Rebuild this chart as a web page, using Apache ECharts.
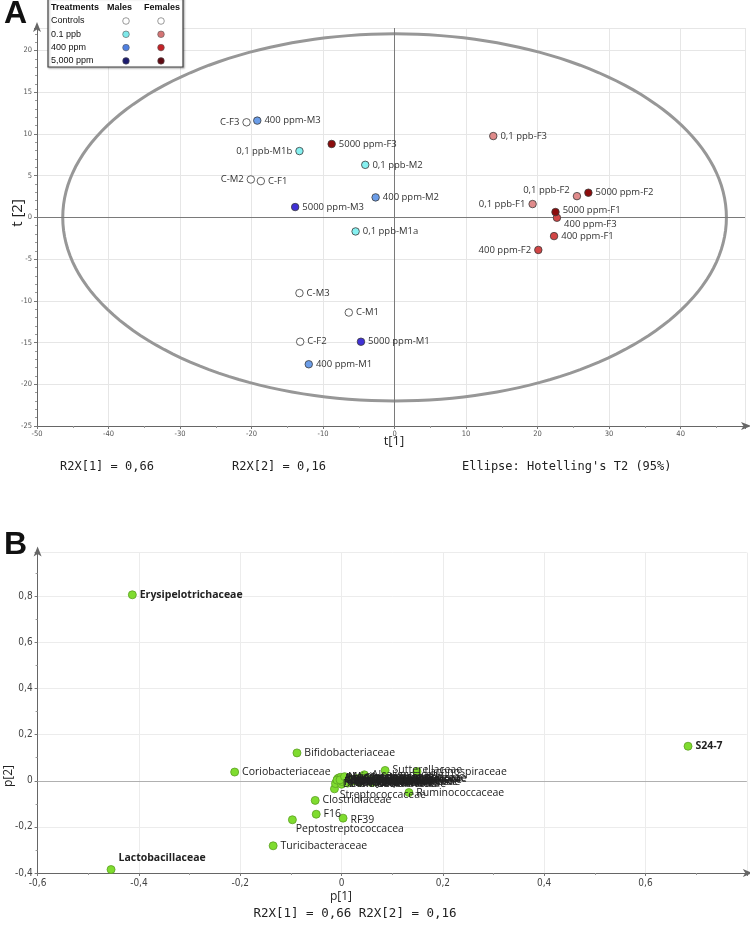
<!DOCTYPE html>
<html><head><meta charset="utf-8">
<script src="https://cdn.jsdelivr.net/npm/echarts@6/dist/echarts.min.js"></script>
<style>html,body{margin:0;padding:0;background:#fff}#c{width:750px;height:926px}</style>
</head><body><div id="c"></div>
<script>
// ---------- Panel A data (scores t[1], t[2]) ----------
const ctrlNames = ['C-F3','C-M2','C-F1','C-M3','C-M1','C-F2'];
const ctrlX = [-20.7,-20.1,-18.7,-13.3,-6.4,-13.2];
const ctrlY = [11.4,4.55,4.35,-9.07,-11.4,-14.9];
const ppbMNames = ['0,1 ppb-M1b','0,1 ppb-M2','0,1 ppb-M1a'];
const ppbMX = [-13.3,-4.1,-5.45];
const ppbMY = [7.95,6.3,-1.68];
const p400MNames = ['400 ppm-M3','400 ppm-M2','400 ppm-M1'];
const p400MX = [-19.2,-2.65,-12.0];
const p400MY = [11.6,2.4,-17.6];
const p5000MNames = ['5000 ppm-M3','5000 ppm-M1'];
const p5000MX = [-13.9,-4.7];
const p5000MY = [1.24,-14.9];
const ppbFNames = ['0,1 ppb-F3','0,1 ppb-F2','0,1 ppb-F1'];
const ppbFX = [13.8,25.5,19.3];
const ppbFY = [9.75,2.55,1.6];
const p400FNames = ['400 ppm-F3','400 ppm-F1','400 ppm-F2'];
const p400FX = [22.7,22.3,20.1];
const p400FY = [-0.04,-2.24,-3.9];
const p5000FNames = ['5000 ppm-F3','5000 ppm-F2','5000 ppm-F1'];
const p5000FX = [-8.8,27.1,22.5];
const p5000FY = [8.8,2.96,0.64];
// Hotelling's T2 ellipse semi-axes (t[1], t[2])
const ellipseA = 46.4;
const ellipseB = 22.0;
// axis ticks
const aXTicks = [-50,-40,-30,-20,-10,0,10,20,30,40];
const aYTicks = [-25,-20,-15,-10,-5,0,5,10,15,20];

// ---------- Panel B data (loadings p[1], p[2]) ----------
const bNames = ['Erysipelotrichaceae','Lactobacillaceae','S24-7','Bifidobacteriaceae','Coriobacteriaceae',
  'Clostridiaceae','F16','RF39','Peptostreptococcacea','Turicibacteraceae','Ruminococcaceae','Streptococcaceae',
  'Alcaligenaceae','Sutterellaceae','Lachnospiraceae','Enterobacteriaceae','Peptococcaceae','Desulfovibrionaceae',
  'Rikenellaceae','Prevotellaceae','Bacteroidaceae','Porphyromonadaceae','Deferribacteraceae','Verrucomicrobiaceae',
  'Dehalobacteriaceae','Mogibacteriaceae','Christensenellaceae','Odoribacteraceae','Enterococcaceae','Helicobacteraceae',
  'Paraprevotellaceae','Anaeroplasmataceae','Mycoplasmataceae','Staphylococcaceae','Veillonellaceae','Barnesiellaceae',
  'Corynebacteriaceae','Micrococcaceae','Eubacteriaceae','Clostridiales'];
const bX = [-0.413,-0.455,0.684,-0.088,-0.211,
  -0.052,-0.050,0.003,-0.097,-0.135,0.133,-0.014,
  0.045,0.086,0.149,-0.008,-0.004,0.002,
  -0.010,0.004,-0.006,0.008,-0.012,0.010,
  0.000,-0.002,0.030,-0.009,0.001,0.055,
  0.020,0.015,0.035,-0.003,0.025,0.012,
  0.040,0.006,0.018,0.060];
const bY = [0.807,-0.385,0.150,0.121,0.038,
  -0.085,-0.145,-0.162,-0.169,-0.282,-0.051,-0.035,
  0.026,0.045,0.040,0.008,0.000,0.005,
  -0.005,-0.008,0.012,0.002,-0.012,-0.004,
  -0.015,0.015,0.010,0.003,-0.003,0.006,
  -0.002,0.010,-0.006,0.004,0.001,-0.010,
  0.012,0.018,-0.004,-0.008];

// ---------- styles ----------
const labelFont = "'Open Sans', 'Noto Sans', sans-serif";
const tickFont = "'DejaVu Sans Condensed', 'DejaVu Sans', sans-serif";
const monoFont = "'DejaVu Sans Mono', monospace";
const aLeftLabels = ['C-F3','0,1 ppb-M1b','C-M2','0,1 ppb-F1','400 ppm-F2','0,1 ppb-F2'];
const aLabelOffset = {'0,1 ppb-F2':[0,-6],'400 ppm-F3':[0,7],'5000 ppm-F1':[0,-2]};
const bBold = ['Erysipelotrichaceae','Lactobacillaceae','S24-7'];
const bLabelOffset = {'Peptostreptococcacea':[-4,9],'Lactobacillaceae':[0,-12],'Streptococcaceae':[-2,6],'RF39':[0,2]};

function aData(names, xs, ys){
  return names.map((n,i)=>({
    name:n, value:[xs[i],ys[i]],
    label:{position: aLeftLabels.includes(n)?'left':'right', offset: aLabelOffset[n]||[0,0]}
  }));
}
function aSeries(names,xs,ys,color){
  return {
    type:'scatter', xAxisIndex:0, yAxisIndex:0, z:5,
    symbol:'circle', symbolSize:7.5,
    itemStyle:{color:color, borderColor:'#3a3a3a', borderWidth:0.8, opacity:1},
    label:{show:true, formatter:'{b}', fontFamily:labelFont, fontSize:9.5, color:'#333', distance:3},
    data:aData(names,xs,ys)
  };
}

const chart = echarts.init(document.getElementById('c'), null, {renderer:'canvas'});

const axisLineA = {onZero:false, lineStyle:{color:'#666', width:1}, symbol:['none','arrow'], symbolSize:[6,10], symbolOffset:[0,6]};
const commaFmt = v => String(Math.round(v*10)/10).replace('.',',');

const legendRows = [
  ['Controls','#ffffff','#ffffff'],
  ['0.1 ppb','#7fe9ea','#d47474'],
  ['400 ppm','#4f7fe0','#c42226'],
  ['5,000 ppm','#1b1a6e','#5e0a12']
];
const legendEls = [
  {type:'rect', shape:{x:48,y:-2,width:135,height:69}, style:{fill:'#fff', stroke:'#444', lineWidth:1.2, shadowBlur:2, shadowColor:'rgba(0,0,0,0.3)', shadowOffsetX:1, shadowOffsetY:1}, z:20},
  {type:'text', x:51, y:8, style:{text:'Treatments', font:"bold 9px 'Liberation Sans', Arial", fill:'#111', verticalAlign:'middle'}, z:21},
  {type:'text', x:107, y:8, style:{text:'Males', font:"bold 9px 'Liberation Sans', Arial", fill:'#111', verticalAlign:'middle'}, z:21},
  {type:'text', x:144, y:8, style:{text:'Females', font:"bold 9px 'Liberation Sans', Arial", fill:'#111', verticalAlign:'middle'}, z:21}
];
legendRows.forEach((r,i)=>{
  const y = 21 + i*13.3;
  legendEls.push({type:'text', x:51, y:y, style:{text:r[0], font:"9px 'Liberation Sans', Arial", fill:'#111', verticalAlign:'middle'}, z:21});
  legendEls.push({type:'circle', shape:{cx:126,cy:y,r:3.3}, style:{fill:r[1], stroke:'#555', lineWidth:0.6}, z:21});
  legendEls.push({type:'circle', shape:{cx:161,cy:y,r:3.3}, style:{fill:r[2], stroke:'#555', lineWidth:0.6}, z:21});
});

const option = {
  backgroundColor:'#fff',
  animation:false,
  grid:[
    {left:37, right:5, top:28, bottom:500},
    {left:37.6, right:3.2, top:552.6, bottom:53}
  ],
  xAxis:[
    {gridIndex:0, type:'value', min:aXTicks[0], max:49, interval:10,
     axisLine:axisLineA,
     axisTick:{show:true, length:3, lineStyle:{color:'#777'}},
     minorTick:{show:true, splitNumber:2, length:2, lineStyle:{color:'#999'}},
     axisLabel:{fontSize:7.5, color:'#555', fontFamily:tickFont, margin:4, showMaxLabel:false},
     splitLine:{show:true, lineStyle:{color:'#e6e6e6', width:1}}},
    {gridIndex:1, type:'value', min:-0.6, max:0.8, interval:0.2,
     axisLine:axisLineA,
     axisTick:{show:true, length:3, lineStyle:{color:'#777'}},
     minorTick:{show:true, splitNumber:2, length:2, lineStyle:{color:'#999'}},
     axisLabel:{fontSize:10, color:'#444', fontFamily:tickFont, margin:5, showMaxLabel:false, formatter:commaFmt},
     splitLine:{show:true, lineStyle:{color:'#ececec', width:1}}}
  ],
  yAxis:[
    {gridIndex:0, type:'value', min:aYTicks[0], max:22.7, interval:5,
     axisLine:axisLineA,
     axisTick:{show:true, length:3, lineStyle:{color:'#777'}},
     minorTick:{show:true, splitNumber:5, length:2, lineStyle:{color:'#999'}},
     axisLabel:{fontSize:7.5, color:'#555', fontFamily:tickFont, margin:5, showMaxLabel:false},
     splitLine:{show:true, lineStyle:{color:'#e6e6e6', width:1}}},
    {gridIndex:1, type:'value', min:-0.4, max:0.99, interval:0.2,
     axisLine:axisLineA,
     axisTick:{show:true, length:3, lineStyle:{color:'#777'}},
     minorTick:{show:true, splitNumber:2, length:2, lineStyle:{color:'#999'}},
     axisLabel:{fontSize:10, color:'#444', fontFamily:tickFont, margin:5, showMaxLabel:false, formatter:commaFmt},
     splitLine:{show:true, lineStyle:{color:'#ececec', width:1}}}
  ],
  series:[
    {type:'custom', xAxisIndex:0, yAxisIndex:0, z:3, silent:true,
     data:[[0,0]],
     renderItem:function(params, api){
       const pts=[];
       for(let k=0;k<=180;k++){
         const t = k/180*2*Math.PI;
         pts.push(api.coord([ellipseA*Math.cos(t), ellipseB*Math.sin(t)]));
       }
       return {type:'polyline', shape:{points:pts}, style:{fill:'none', stroke:'#979797', lineWidth:3}};
     },
     markLine:{silent:true, symbol:['none','none'], label:{show:false},
       lineStyle:{color:'#7a7a7a', width:1, type:'solid'},
       data:[{xAxis:0},{yAxis:0}]}
    },
    aSeries(ctrlNames,ctrlX,ctrlY,'#ffffff'),
    aSeries(ppbMNames,ppbMX,ppbMY,'#86f0f0'),
    aSeries(p400MNames,p400MX,p400MY,'#6b9de8'),
    aSeries(p5000MNames,p5000MX,p5000MY,'#4031d6'),
    aSeries(ppbFNames,ppbFX,ppbFY,'#e08b8b'),
    aSeries(p400FNames,p400FX,p400FY,'#d24646'),
    aSeries(p5000FNames,p5000FX,p5000FY,'#8c0c0c'),
    {type:'scatter', xAxisIndex:1, yAxisIndex:1, z:5,
     symbol:'circle', symbolSize:8,
     itemStyle:{color:'#7fdc2f', borderColor:'#5c9f22', borderWidth:0.8, opacity:1},
     label:{show:true, formatter:'{b}', fontFamily:labelFont, fontSize:10.5, color:'#222', position:'right', distance:3},
     markLine:{silent:true, symbol:['none','none'], label:{show:false},
       lineStyle:{color:'#b0b0b0', width:1, type:'solid'},
       data:[{yAxis:0}]},
     data:bNames.map((n,i)=>({name:n, value:[bX[i],bY[i]],
       label:{fontWeight: bBold.includes(n)?'bold':'normal', offset:bLabelOffset[n]||[0,0]}}))
    }
  ],
  graphic:[
    {type:'text', x:4, y:-2, style:{text:'A', font:"bold 32px 'Liberation Sans', Arial", fill:'#111', verticalAlign:'top'}},
    {type:'text', x:4, y:529, style:{text:'B', font:"bold 32px 'Liberation Sans', Arial", fill:'#111', verticalAlign:'top'}},
    {type:'text', x:394, y:441, style:{text:'t[1]', font:"13px "+labelFont, fill:'#222', align:'center', verticalAlign:'middle'}},
    {type:'text', x:18, y:213, rotation:Math.PI/2, style:{text:'t [2]', font:"15px "+labelFont, fill:'#222', align:'center', verticalAlign:'middle'}},
    {type:'text', x:60, y:467, style:{text:'R2X[1] = 0,66', font:"12px "+monoFont, fill:'#222', verticalAlign:'middle'}},
    {type:'text', x:232, y:467, style:{text:'R2X[2] = 0,16', font:"12px "+monoFont, fill:'#222', verticalAlign:'middle'}},
    {type:'text', x:462, y:467, style:{text:"Ellipse: Hotelling's T2 (95%)", font:"12px "+monoFont, fill:'#222', verticalAlign:'middle'}},
    {type:'text', x:341, y:897, style:{text:'p[1]', font:"12px "+labelFont, fill:'#222', align:'center', verticalAlign:'middle'}},
    {type:'text', x:9, y:776, rotation:Math.PI/2, style:{text:'p[2]', font:"12px "+labelFont, fill:'#222', align:'center', verticalAlign:'middle'}},
    {type:'text', x:355, y:914, style:{text:'R2X[1] = 0,66 R2X[2] = 0,16', font:"12.5px "+monoFont, fill:'#222', align:'center', verticalAlign:'middle'}}
  ].concat(legendEls)
};
chart.setOption(option);
</script></body></html>
